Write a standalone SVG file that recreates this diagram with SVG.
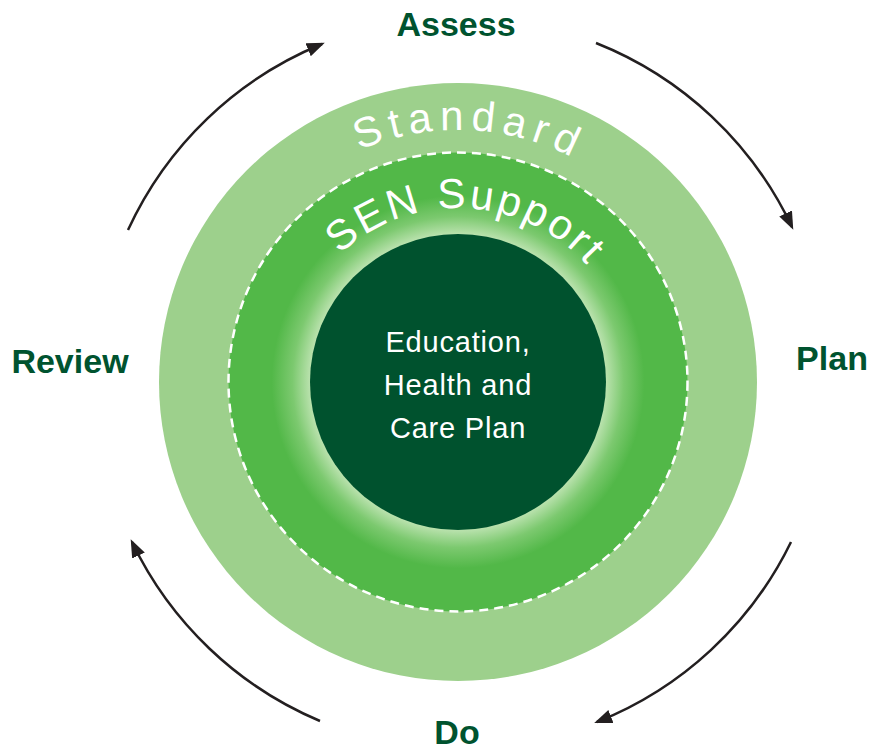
<svg xmlns="http://www.w3.org/2000/svg" width="878" height="752" viewBox="0 0 878 752">
  <style>
    .label { font-family: "Liberation Sans", Arial, sans-serif; font-weight: bold; font-size: 34px; fill: #00532f; text-anchor: middle; }
    .ring-text { font-family: "Liberation Sans", Arial, sans-serif; fill: #ffffff; }
    .center-text { font-family: "Liberation Sans", Arial, sans-serif; font-size: 29px; fill: #ffffff; text-anchor: middle; letter-spacing: 0.8px; }
    .arrow { fill: none; stroke: #231f20; stroke-width: 2.5; marker-end: url(#head); }
  </style>
  <defs>
    <marker id="head" markerUnits="userSpaceOnUse" markerWidth="20" markerHeight="16" refX="15" refY="7" orient="auto">
      <path d="M0,0 L18,7 L0,14 z" fill="#231f20"/>
    </marker>
    <radialGradient id="glow" gradientUnits="userSpaceOnUse" cx="458" cy="382" r="230">
      <stop offset="0.63" stop-color="#c4e6b8"/>
      <stop offset="0.72" stop-color="#7cc96f"/>
      <stop offset="0.81" stop-color="#52b848"/>
      <stop offset="1" stop-color="#52b848"/>
    </radialGradient>
    <path id="stdPath" d="M 206 382 A 252 252 0 0 1 710 382"/>
    <path id="senPath" d="M 284 382 A 174 174 0 0 1 632 382"/>
  </defs>

  <g id="standard">
    <circle cx="458" cy="382" r="299" fill="#9dd08c"/>
    <text class="ring-text" font-size="42" letter-spacing="7"><textPath href="#stdPath" startOffset="407" text-anchor="middle">Standard</textPath></text>
  </g>

  <g id="sen-support">
    <circle cx="458" cy="382" r="229.5" fill="url(#glow)" stroke="#ffffff" stroke-width="2.5" stroke-dasharray="9 6"/>
    <text class="ring-text" font-size="42" letter-spacing="3"><textPath href="#senPath" startOffset="282" text-anchor="middle">SEN Support</textPath></text>
  </g>

  <g id="ehc-plan">
    <circle cx="458" cy="382" r="148" fill="#00522e"/>
    <text class="center-text" x="458" y="352">Education,</text>
    <text class="center-text" x="458" y="395">Health and</text>
    <text class="center-text" x="458" y="438">Care Plan</text>
  </g>

  <g id="connectors">
    <path class="arrow" d="M 596 43 A 366 366 0 0 1 792 227"/>
    <path class="arrow" d="M 791 542 A 366 366 0 0 1 597 722"/>
    <path class="arrow" d="M 320 721 A 366 366 0 0 1 132 542"/>
    <path class="arrow" d="M 128 230 A 366 366 0 0 1 322 44"/>
  </g>

  <g id="assess"><text class="label" x="456" y="36">Assess</text></g>
  <g id="plan"><text class="label" x="832" y="370">Plan</text></g>
  <g id="do"><text class="label" x="457" y="744">Do</text></g>
  <g id="review"><text class="label" x="70" y="373">Review</text></g>
</svg>
